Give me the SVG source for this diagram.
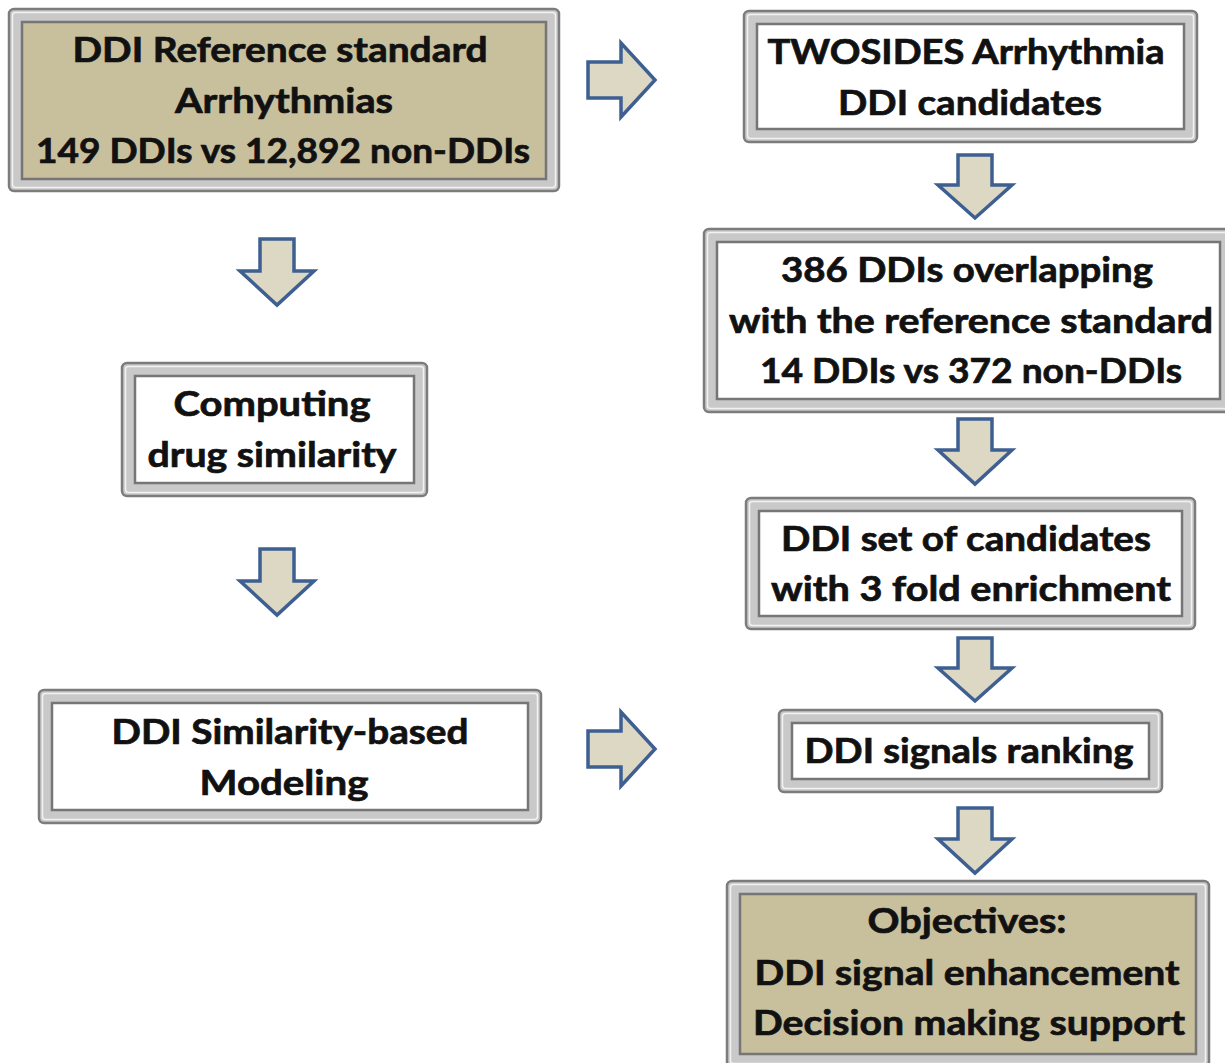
<svg xmlns="http://www.w3.org/2000/svg" width="1225" height="1063" viewBox="0 0 1225 1063">
  <style>
    .outer { fill: #c9c9c9; stroke: #7c7c7c; stroke-width: 2.5; }
    .band { fill: none; stroke: #f2f2f2; stroke-width: 1.5; }
    .inner { stroke: #767676; stroke-width: 2.5; }
    .tan { fill: #c8bf9d; }
    .white { fill: #ffffff; }
    .label { font-family: Lato, "Open Sans", "Liberation Sans", sans-serif; font-weight: bold; font-size: 35px; fill: #111; stroke: #111; stroke-width: 0.7; text-anchor: middle; }
    .arrow { fill: #ddd8c3; stroke: #3e5f91; stroke-width: 3.5; stroke-linejoin: miter; }
  </style>

  <rect width="1225" height="1063" fill="#ffffff"/>

  <!-- Reference standard -->
  <g id="reference-standard">
    <rect class="outer" x="9" y="9" width="550" height="182" rx="5"/>
    <rect class="band" x="12.5" y="12.5" width="543" height="175" rx="3"/>
    <rect class="inner tan" x="22" y="22" width="524" height="157"/>
    <text class="label" x="280" y="62" textLength="415" lengthAdjust="spacingAndGlyphs">DDI Reference standard</text>
    <text class="label" x="284" y="113" textLength="218" lengthAdjust="spacingAndGlyphs">Arrhythmias</text>
    <text class="label" x="283" y="163" textLength="494" lengthAdjust="spacingAndGlyphs">149 DDIs vs 12,892 non-DDIs</text>
  </g>

  <!-- TWOSIDES candidates -->
  <g id="twosides">
    <rect class="outer" x="744" y="11" width="453" height="131" rx="5"/>
    <rect class="band" x="747.5" y="14.5" width="446" height="124" rx="3"/>
    <rect class="inner white" x="757" y="24" width="427" height="105"/>
    <text class="label" x="966" y="64" textLength="397" lengthAdjust="spacingAndGlyphs">TWOSIDES Arrhythmia</text>
    <text class="label" x="970" y="115" textLength="264" lengthAdjust="spacingAndGlyphs">DDI candidates</text>
  </g>

  <!-- Overlap with reference standard -->
  <g id="overlap">
    <rect class="outer" x="704" y="229" width="527" height="183" rx="5"/>
    <rect class="band" x="707.5" y="232.5" width="520" height="176" rx="3"/>
    <rect class="inner white" x="717" y="242" width="503" height="157"/>
    <text class="label" x="967" y="282" textLength="372" lengthAdjust="spacingAndGlyphs">386 DDIs overlapping</text>
    <text class="label" x="971" y="333" textLength="484" lengthAdjust="spacingAndGlyphs">with the reference standard</text>
    <text class="label" x="971" y="383" textLength="422" lengthAdjust="spacingAndGlyphs">14 DDIs vs 372 non-DDIs</text>
  </g>

  <!-- Drug similarity -->
  <g id="drug-similarity">
    <rect class="outer" x="122" y="363" width="305" height="133" rx="5"/>
    <rect class="band" x="125.5" y="366.5" width="298" height="126" rx="3"/>
    <rect class="inner white" x="135" y="376" width="279" height="107"/>
    <text class="label" x="272" y="416" textLength="197" lengthAdjust="spacingAndGlyphs">Computing</text>
    <text class="label" x="272" y="467" textLength="249" lengthAdjust="spacingAndGlyphs">drug similarity</text>
  </g>

  <!-- Enriched candidate set -->
  <g id="candidate-set">
    <rect class="outer" x="746" y="498" width="449" height="131" rx="5"/>
    <rect class="band" x="749.5" y="501.5" width="442" height="124" rx="3"/>
    <rect class="inner white" x="759" y="511" width="423" height="105"/>
    <text class="label" x="966" y="551" textLength="370" lengthAdjust="spacingAndGlyphs">DDI set of candidates</text>
    <text class="label" x="971" y="601" textLength="400" lengthAdjust="spacingAndGlyphs">with 3 fold enrichment</text>
  </g>

  <!-- Similarity-based modeling -->
  <g id="modeling">
    <rect class="outer" x="39" y="690" width="502" height="133" rx="5"/>
    <rect class="band" x="42.5" y="693.5" width="495" height="126" rx="3"/>
    <rect class="inner white" x="52" y="703" width="476" height="107"/>
    <text class="label" x="290" y="744" textLength="357" lengthAdjust="spacingAndGlyphs">DDI Similarity-based</text>
    <text class="label" x="284" y="795" textLength="169" lengthAdjust="spacingAndGlyphs">Modeling</text>
  </g>

  <!-- Signal ranking -->
  <g id="ranking">
    <rect class="outer" x="779" y="710" width="383" height="82" rx="5"/>
    <rect class="band" x="782.5" y="713.5" width="376" height="75" rx="3"/>
    <rect class="inner white" x="792" y="723" width="357" height="56"/>
    <text class="label" x="969" y="763" textLength="329" lengthAdjust="spacingAndGlyphs">DDI signals ranking</text>
  </g>

  <!-- Objectives -->
  <g id="objectives">
    <rect class="outer" x="727" y="881" width="482" height="186" rx="5"/>
    <rect class="band" x="730.5" y="884.5" width="475" height="179" rx="3"/>
    <rect class="inner tan" x="740" y="894" width="456" height="160"/>
    <text class="label" x="967" y="933" textLength="199" lengthAdjust="spacingAndGlyphs">Objectives:</text>
    <text class="label" x="967" y="985" textLength="425" lengthAdjust="spacingAndGlyphs">DDI signal enhancement</text>
    <text class="label" x="969" y="1035" textLength="432" lengthAdjust="spacingAndGlyphs">Decision making support</text>
  </g>

  <!-- Block arrows between steps -->
  <g id="connectors">
    <path class="arrow" d="M588 62 h33 v-19 l34 37 l-34 37 v-19 h-33 z"/>
    <path class="arrow" d="M588 731 h33 v-19 l34 37 l-34 37 v-19 h-33 z"/>
    <path class="arrow" d="M260 239 h34 v32 h20 l-37 34 l-37 -34 h20 z"/>
    <path class="arrow" d="M260 549 h34 v32 h20 l-37 34 l-37 -34 h20 z"/>
    <path class="arrow" d="M958 155 h34 v30 h20 l-37 33 l-37 -33 h20 z"/>
    <path class="arrow" d="M958 419 h34 v31 h20 l-37 34 l-37 -34 h20 z"/>
    <path class="arrow" d="M958 638 h34 v30 h20 l-37 33 l-37 -33 h20 z"/>
    <path class="arrow" d="M958 808 h34 v31 h20 l-37 34 l-37 -34 h20 z"/>
  </g>
</svg>
